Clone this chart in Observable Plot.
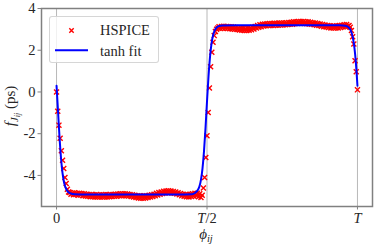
<!DOCTYPE html>
<html>
<head>
<meta charset="utf-8">
<script src="https://cdn.jsdelivr.net/npm/d3@7"></script>
<script src="https://cdn.jsdelivr.net/npm/@observablehq/plot@0.6"></script>
<style>
  html, body { margin: 0; padding: 0; background: white; }
  #wrap { position: relative; width: 374px; height: 249px; }
  #legend { position: absolute; box-sizing: border-box; background: rgba(255,255,255,0.8);
            border: 1px solid rgba(204,204,204,0.8); border-radius: 3px;
            font-family: "Liberation Serif", serif; font-size: 14px; color: #222; }
</style>
</head>
<body>
<div id="wrap"></div>
<script>
// Series names
const seriesNames = ["HSPICE", "tanh fit"];

// HSPICE samples: phase uniformly sampled 0..T in 250 steps (T = 1)
const hspiceSteps = 250;
const hspiceY = [
  // 0.000 - 0.040
  0.0, -0.93, -1.59, -2.22, -2.82, -3.27, -3.67, -4.10, -4.39, -4.66, -4.80,
  // 0.044 - 0.476
  -4.82, -4.90, -4.84, -4.93, -4.83, -4.92, -4.86, -4.95, -4.85, -4.94,
  -4.87, -4.97, -4.88, -4.99, -4.90, -5.00, -4.91, -5.02, -4.92, -5.02,
  -4.93, -5.03, -4.92, -5.04, -4.94, -5.03, -4.93, -5.04, -4.93, -5.03,
  -4.92, -5.03, -4.93, -5.02, -4.92, -5.01, -4.91, -5.00, -4.90, -5.00,
  -4.89, -4.98, -4.88, -4.98, -4.88, -4.97, -4.88, -4.98, -4.89, -4.99,
  -4.91, -5.01, -4.93, -5.03, -4.95, -5.06, -4.97, -5.08, -4.98, -5.09,
  -4.99, -5.09, -4.98, -5.08, -4.97, -5.06, -4.95, -5.04, -4.93, -5.01,
  -4.90, -4.98, -4.86, -4.94, -4.82, -4.90, -4.79, -4.87, -4.76, -4.84,
  -4.75, -4.83, -4.74, -4.83, -4.75, -4.84, -4.77, -4.86, -4.80, -4.89,
  -4.83, -4.93, -4.87, -4.97, -4.90, -5.00, -4.92, -5.02, -4.92, -5.03,
  -4.90, -5.01, -4.88, -4.99, -4.86, -4.98, -4.85, -5.02, -4.88,
  // 0.480 - 0.536
  -5.06, -4.95, -4.60, -4.10, -3.14, -2.10, -0.98, 0.19, 1.21, 1.90, 2.38, 2.70, 2.90, 3.00, 3.06,
  // 0.540 - 0.968
  3.13, 3.04, 3.14, 3.05, 3.15, 3.05, 3.14, 3.04, 3.13, 3.03,
  3.12, 3.02, 3.11, 3.00, 3.09, 2.99, 3.07, 2.97, 3.06, 2.96,
  3.05, 2.95, 3.04, 2.95, 3.05, 2.96, 3.07, 2.98, 3.10, 3.02,
  3.14, 3.06, 3.18, 3.10, 3.22, 3.13, 3.24, 3.16, 3.26, 3.17,
  3.27, 3.18, 3.28, 3.19, 3.28, 3.19, 3.29, 3.20, 3.29, 3.20,
  3.30, 3.21, 3.30, 3.21, 3.31, 3.22, 3.32, 3.23, 3.33, 3.24,
  3.34, 3.25, 3.36, 3.27, 3.37, 3.28, 3.38, 3.29, 3.38, 3.29,
  3.38, 3.28, 3.37, 3.27, 3.36, 3.26, 3.34, 3.24, 3.32, 3.22,
  3.30, 3.20, 3.28, 3.18, 3.26, 3.15, 3.23, 3.13, 3.21, 3.11,
  3.19, 3.09, 3.17, 3.07, 3.16, 3.06, 3.16, 3.06, 3.17, 3.07,
  3.18, 3.09, 3.20, 3.11, 3.22, 3.13, 3.23, 3.15,
  // 0.972 - 1.000
  3.18, 3.10, 2.95, 2.65, 2.30, 1.50, 0.97, 0.10
];

// tanh fit curve
const fitX = [0, 0.005, 0.01, 0.015, 0.02, 0.025, 0.03, 0.035, 0.04,
  0.05, 0.06, 0.1, 0.2, 0.3, 0.4, 0.45,
  0.46, 0.47, 0.475, 0.48, 0.485, 0.49, 0.495, 0.5,
  0.505, 0.51, 0.515, 0.52, 0.525, 0.53, 0.54, 0.55,
  0.6, 0.7, 0.8, 0.9, 0.94, 0.95, 0.96, 0.97,
  0.975, 0.98, 0.985, 0.99, 0.995, 1.0];
const fitY = [0.3, -0.95, -2.19, -3.2, -3.9, -4.34, -4.59, -4.73, -4.81,
  -4.88, -4.9, -4.92, -4.92, -4.92, -4.92, -4.9,
  -4.84, -4.69, -4.52, -4.2, -3.67, -2.85, -1.74, -0.46,
  0.74, 1.68, 2.32, 2.71, 2.93, 3.06, 3.16, 3.19,
  3.2, 3.2, 3.2, 3.2, 3.2, 3.19, 3.17, 3.10,
  3.02, 2.86, 2.58, 2.11, 1.36, 0.3];

// Axis ticks
const xTicks = [0, 0.5, 1];
const xTickLabels = ["0", "T/2", "T"];
const yTicks = [-4, -2, 0, 2, 4];
const yTickLabels = ["-4", "-2", "0", "2", "4"];

const hspice = hspiceY.map((y, i) => ({x: i / hspiceSteps, y}));
const fit = fitX.map((x, i) => ({x, y: fitY[i]}));

const axisGray = "#808080";
const textColor = "#262626";

const chart = Plot.plot({
  width: 374, height: 249,
  marginLeft: 41, marginRight: 2, marginTop: 8, marginBottom: 43,
  x: {domain: [-0.05, 1.05]},
  y: {domain: [-5.49, 4]},
  style: {fontFamily: "'Liberation Serif', serif", fontSize: "14.5px", background: "white", color: textColor},
  marks: [
    Plot.ruleX(xTicks, {stroke: "#b8b8b8", strokeWidth: 1}),
    Plot.dot(hspice, {x: "x", y: "y", symbol: "times", stroke: "red", r: 2.4, strokeWidth: 1.4}),
    Plot.line(fit, {x: "x", y: "y", stroke: "blue", strokeWidth: 2, curve: "monotone-x"}),
    Plot.frame({stroke: axisGray, strokeWidth: 1.5}),
    Plot.axisX(xTicks, {tickSize: 3.5, tickPadding: 3, stroke: axisGray, label: null,
      tickFormat: (d) => xTickLabels[xTicks.indexOf(d)], fill: textColor}),
    Plot.axisY(yTicks, {tickSize: 3.5, tickPadding: 2.5, stroke: axisGray, label: null,
      tickFormat: (d) => yTickLabels[yTicks.indexOf(d)], fill: textColor})
  ]
});

const svg = d3.select(chart);
// italic T in x tick labels
svg.selectAll("g[aria-label='x-axis tick label'] text").each(function() {
  const t = d3.select(this);
  const s = t.text();
  if (s.includes("T")) {
    t.text("");
    t.append("tspan").attr("font-style", "italic").text("T");
    if (s.length > 1) t.append("tspan").text(s.slice(1));
  }
});

// y label: f_{J_{ij}} (ps)
const yl = svg.append("text")
  .attr("transform", "translate(15,106) rotate(-90)")
  .attr("text-anchor", "middle")
  .attr("font-family", "'Liberation Serif', serif")
  .attr("font-size", 15)
  .attr("fill", textColor);
yl.append("tspan").attr("font-style", "italic").text("f");
yl.append("tspan").attr("font-style", "italic").attr("font-size", 11).attr("dy", 3).text("J");
yl.append("tspan").attr("font-style", "italic").attr("font-size", 8).attr("dy", 2).text("ij");
yl.append("tspan").attr("dy", -5).text("\u00a0(ps)");

// x label: phi_ij
const xl = svg.append("text")
  .attr("x", 206).attr("y", 239)
  .attr("text-anchor", "middle")
  .attr("font-family", "'Liberation Serif', serif")
  .attr("font-size", 15)
  .attr("fill", textColor);
xl.append("tspan").attr("font-style", "italic").text("\u03d5");
xl.append("tspan").attr("font-style", "italic").attr("font-size", 10.5).attr("dy", 3).text("ij");

const wrap = document.getElementById("wrap");
wrap.appendChild(chart);

// legend
const legend = document.createElement("div");
legend.id = "legend";
legend.style.left = "48.5px";
legend.style.top = "15.5px";
legend.style.width = "110px";
legend.style.height = "47.5px";
legend.innerHTML = `
<svg width="108" height="46" style="position:absolute;left:0;top:0;overflow:visible">
  <path d="M19.3,11.3 L23.7,15.7 M23.7,11.3 L19.3,15.7" stroke="red" stroke-width="1.4" fill="none"/>
  <line x1="5" x2="38" y1="33.3" y2="33.3" stroke="blue" stroke-width="2"/>
  <text x="50" y="18" font-family="'Liberation Serif', serif" font-size="14.5" fill="${textColor}">${seriesNames[0]}</text>
  <text x="50" y="38.5" font-family="'Liberation Serif', serif" font-size="14.5" fill="${textColor}">${seriesNames[1]}</text>
</svg>`;
wrap.appendChild(legend);
</script>
</body>
</html>
